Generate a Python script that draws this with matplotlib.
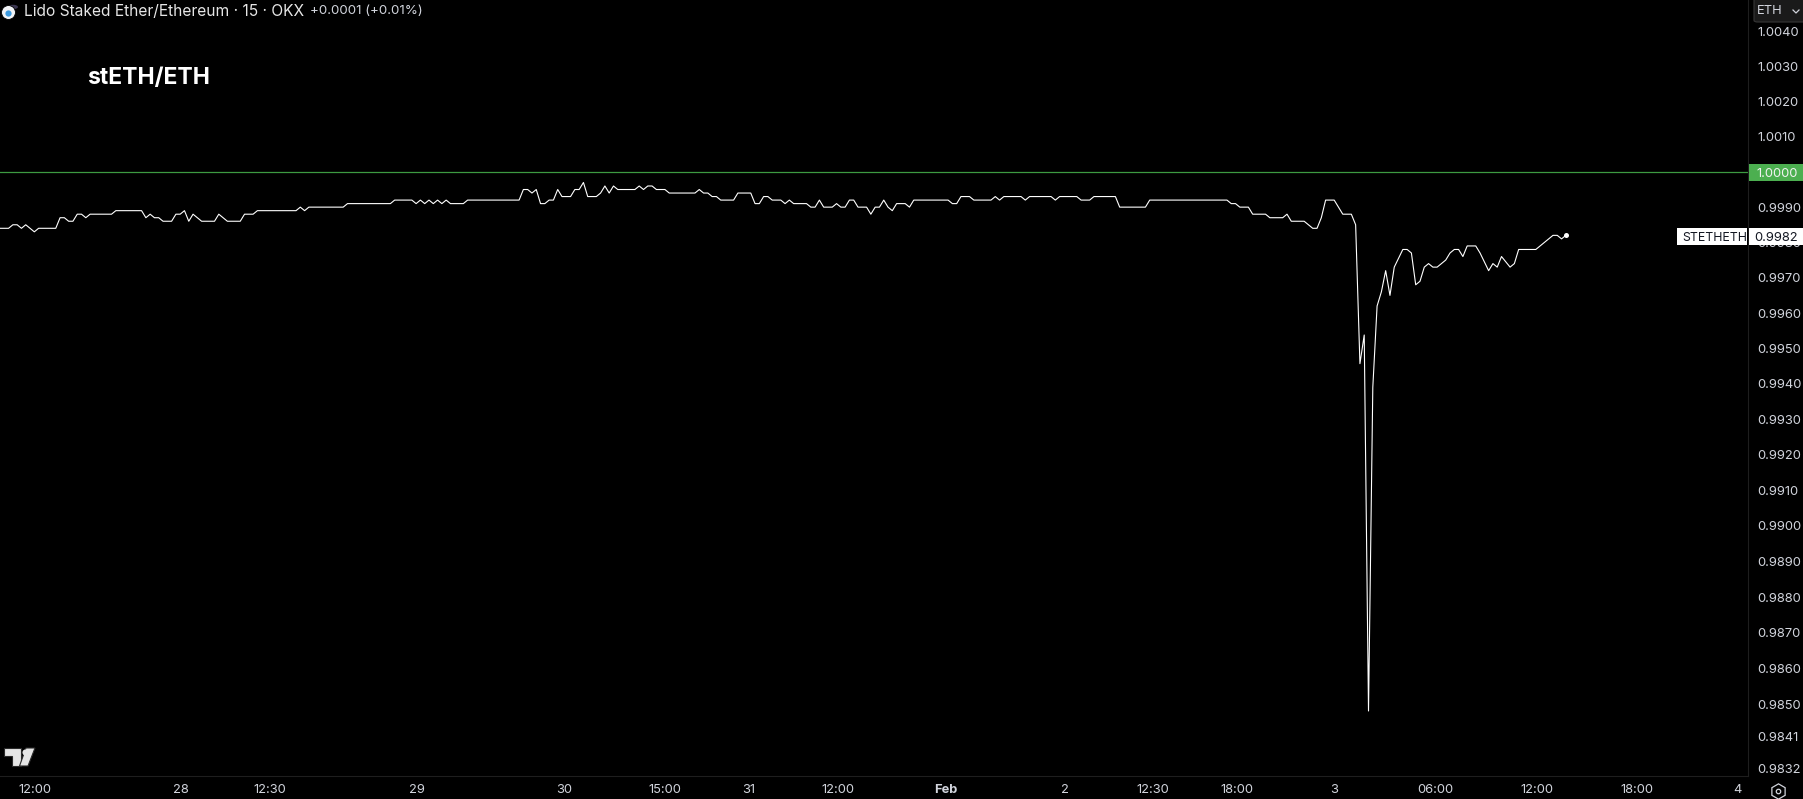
import numpy as np
import matplotlib
matplotlib.use('Agg')
import matplotlib.pyplot as plt
from matplotlib.patches import Rectangle, Polygon, Circle, FancyBboxPatch
from matplotlib.ticker import NullLocator

plt.rcParams['font.family'] = ['Inter', 'DejaVu Sans']

W, H = 1803, 799

# serie: indice de vela y precio (solo los quiebres)
bars = [0, 2, 3, 4, 5, 6, 8, 9, 13, 14, 15, 16, 17, 18, 19, 20, 21, 26, 27, 33, 34, 35, 36, 37, 38, 40, 41, 42, 43, 44,
        45, 47, 50, 51, 53, 56, 57, 59, 60, 69, 70, 71, 72, 80, 81, 91, 92, 96, 97, 98, 99, 100, 101, 102, 103, 104,
        105, 108, 109, 121, 122, 123, 124, 125, 126, 127, 128, 129, 130, 131, 133, 134, 135, 136, 137, 139, 140, 141,
        142, 143, 144, 148, 149, 150, 151, 152, 153, 155, 156, 162, 163, 164, 165, 166, 167, 168, 171, 172, 175, 176,
        177, 178, 179, 180, 182, 183, 184, 185, 188, 189, 190, 191, 192, 194, 195, 196, 197, 198, 199, 200, 202, 203,
        204, 205, 206, 207, 208, 209, 210, 211, 212, 213, 221, 222, 223, 224, 226, 227, 231, 232, 233, 234, 238, 239,
        240, 245, 246, 247, 251, 252, 254, 255, 260, 261, 267, 268, 286, 287, 288, 289, 291, 292, 295, 296, 299, 300,
        301, 304, 306, 307, 308, 309, 311, 313, 315, 316, 317, 318, 319, 320, 321, 322, 323, 324, 325, 327, 328, 329,
        330, 331, 332, 333, 334, 335, 337, 338, 339, 340, 341, 342, 344, 345, 347, 348, 349, 350, 352, 353, 354, 358,
        360, 362, 363, 364, 365]
prices = [.9984, .9984, .9985, .9985, .9984, .9985, .9983, .9984, .9984, .9987, .9987, .9986, .9986, .9988, .9988, .9987,
          .9988, .9988, .9989, .9989, .9987, .9988, .9987, .9987, .9986, .9986, .9988, .9988, .9989, .9986,
          .9988, .9986, .9986, .9988, .9986, .9986, .9988, .9988, .9989, .9989, .9990, .9989, .9990, .9990, .9991,
          .9991, .9992, .9992, .9991, .9992, .9991, .9992, .9991, .9992, .9991, .9992,
          .9991, .9991, .9992, .9992, .9995, .9995, .9994, .9995, .9991, .9991, .9992, .9992, .9995, .9993, .9993,
          .9995, .9995, .9997, .9993, .9993, .9994, .9996,
          .9994, .9996, .9995, .9995, .9996, .9995, .9996, .9996, .9995, .9995, .9994, .9994, .9995, .9994, .9994,
          .9993, .9993, .9992, .9992, .9994, .9994, .9991,
          .9991, .9993, .9993, .9992, .9992, .9991, .9992, .9991, .9991, .9990, .9990, .9992, .9990, .9990, .9991,
          .9990, .9990, .9992, .9992, .9990, .9990, .9988,
          .9990, .9990, .9992, .9990, .9989, .9991, .9991, .9991, .9990, .9992, .9992, .9991, .9991, .9993, .9993,
          .9992, .9992, .9993, .9992, .9993, .9993, .9992,
          .9993, .9993, .9992, .9993, .9993, .9992, .9992, .9993, .9993, .9990, .9990, .9992, .9992, .9991, .9991,
          .9990, .9990, .9988, .9988, .9987, .9987, .9988,
          .9986, .9986, .9984, .9984, .9987, .9992, .9992, .9988, .9988, .9985, .99457, .99538, .98481, .9939, .9962,
          .9966, .9972, .9965, .9973, .9978, .9978, .9977,
          .9968, .9969, .9973, .9974, .9973, .9973, .9975, .9977, .9978, .9978, .9976, .9979, .9979, .9977, .9972,
          .9974, .9973, .9976, .9973, .9974, .9978, .9978,
          .9980, .9982, .9982, .9981, .9982]

y_ticks = [1.004, 1.003, 1.002, 1.001, 1.000, 0.999, 0.998, 0.997, 0.996, 0.995, 0.994, 0.993, 0.992, 0.991, 0.990,
           0.989, 0.988, 0.987, 0.986, 0.985, 0.9841, 0.9832]
x_tick_bars = [8.1, 42.2, 62.9, 97.2, 131.5, 155, 174.6, 195.3, 220.5, 248.2, 268.8, 288.3, 311, 334.5, 358.3, 381.6, 405.1]
x_tick_labels = ['12:00', '28', '12:30', '29', '30', '15:00', '31', '12:00', 'Feb', '2', '12:30', '18:00', '3',
                 '06:00', '12:00', '18:00', '4']
bold_ticks = ['Feb']
last_price = 0.9982


def fx(x):
    return x / W


def fy(y):
    return 1 - y / H


def caja(x0, y0, x1, y1, color, z=5):
    fig.add_artist(Rectangle((fx(x0), fy(y1)), (x1 - x0) / W, (y1 - y0) / H, transform=fig.transFigure,
                             facecolor=color, edgecolor='none', zorder=z))


def texto(x, y, s, **kw):
    kw.setdefault('color', '#d1d4dc')
    kw.setdefault('fontsize', 9.3)
    kw.setdefault('va', 'center')
    kw.setdefault('zorder', 6)
    fig.text(fx(x), fy(y), s, **kw)


fig = plt.figure(figsize=(W / 100, H / 100), dpi=100, facecolor='black')
ax = fig.add_axes([0, fy(776), fx(1748), 776 / H], facecolor='black')

ax.set_yscale('log')
ax.set_ylim(np.exp((171.9 - 776) / 35220), np.exp(171.9 / 35220))
ax.set_xlim(0, 1748 / 4.29)

ax.axhline(1.0, color='#3d9a41', lw=0.9, zorder=1)
ax.plot(bars, prices, color='white', lw=0.8, solid_joinstyle='round', zorder=3)
ax.plot(bars[-1], prices[-1], 'o', color='white', ms=3.6, mew=0, zorder=4)

ax.yaxis.tick_right()
ax.set_yticks(y_ticks)
ax.set_yticklabels([f'{v:.4f}' for v in y_ticks])
ax.yaxis.set_minor_locator(NullLocator())
ax.set_xticks(x_tick_bars)
ax.set_xticklabels(x_tick_labels)
for lab in ax.get_xticklabels():
    if lab.get_text() in bold_ticks:
        lab.set_fontweight('bold')
ax.tick_params(axis='y', length=0, pad=6.6, labelsize=9.3, labelcolor='#d1d4dc')
ax.tick_params(axis='x', length=0, pad=5.5, labelsize=9.3, labelcolor='#d1d4dc')
for lado in ['top', 'left']:
    ax.spines[lado].set_visible(False)
for lado in ['right', 'bottom']:
    ax.spines[lado].set_color('#1e1e1e')
    ax.spines[lado].set_linewidth(0.8)

# etiquetas de precio sobre el eje
caja(1749, 164, W, 181, '#4caf50')
texto(1798, 173.8, '1.0000', color='#f2f2f2', ha='right')
caja(1677, 228, 1747, 245, 'white')
caja(1749, 228, W, 245, 'white')
texto(1682, 237.5, 'STETHETH', color='#131722', ha='left', fontsize=8.9)
texto(1798, 237.5, f'{last_price:.4f}', color='#131722', ha='right')

# caja ETH arriba a la derecha
fig.add_artist(FancyBboxPatch((fx(1754), fy(22)), 60 / W, 28 / H, transform=fig.transFigure,
                              boxstyle='round,pad=0,rounding_size=0.002', facecolor='#1a1a1a',
                              edgecolor='#363636', lw=0.8, zorder=5))
texto(1757, 11, 'ETH', ha='left', fontsize=9.3)
fig.add_artist(plt.Line2D([fx(1793), fx(1796), fx(1799)], [fy(10), fy(13), fy(10)], color='#d1d4dc', lw=0.9, zorder=6))

# encabezado
texto(24, 11, 'Lido Staked Ether/Ethereum · 15 · OKX', fontsize=11.2, color='#e6e6e6', ha='left')
texto(310, 11, '+0.0001 (+0.01%)', fontsize=9.6, color='#d1d4dc', ha='left')
texto(87, 78, 'stETH/ETH', fontsize=16.5, fontweight='bold', color='white', ha='left')

# icono del par
fig.add_artist(Circle((fx(13), fy(7)), 5 / W, transform=fig.transFigure, facecolor='#3a3550', edgecolor='none', zorder=5))
fig.add_artist(plt.Line2D([fx(8)], [fy(12)], marker='o', ms=10, mfc='#f1f3f6', mec='black', mew=0.6, zorder=6))
fig.add_artist(plt.Line2D([fx(8)], [fy(13)], marker='o', ms=4.5, mfc='#3d9be0', mec='none', zorder=7))

# logo TV
logo_t = [(4, 748), (21, 748), (21, 766), (12, 766), (12, 756), (4, 756)]
logo_b = [(26, 748), (35, 748), (28, 766), (19.5, 766)]
for poly in (logo_t, logo_b):
    fig.add_artist(Polygon([(fx(a), fy(b)) for a, b in poly], closed=True, transform=fig.transFigure,
                           facecolor='#e6e6e6', edgecolor='#2a2a2a', lw=0.8, zorder=5))
fig.add_artist(plt.Line2D([fx(24.5)], [fy(751.5)], marker='o', ms=4.4, mfc='#e6e6e6', mec='none', zorder=6))

# engranaje
fig.add_artist(plt.Line2D([fx(1778)], [fy(790.5)], marker='h', ms=11, mfc='none', mec='#d1d4dc', mew=0.9, zorder=6))
fig.add_artist(plt.Line2D([fx(1778)], [fy(790.5)], marker='o', ms=3.2, mfc='none', mec='#d1d4dc', mew=0.9, zorder=6))

fig.savefig('out.png', dpi=100, facecolor='black')
